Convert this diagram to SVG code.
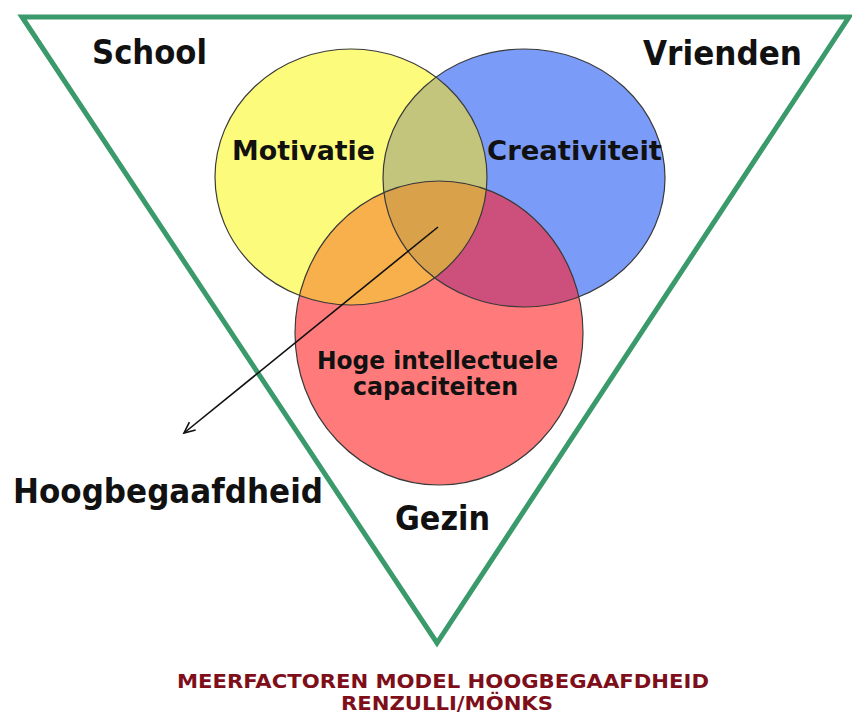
<svg xmlns="http://www.w3.org/2000/svg" width="852" height="717" viewBox="0 0 852 717">
<style>
.lbl{font-family:"DejaVu Sans","Verdana",sans-serif;font-weight:bold;fill:#111;}
.ctx{font-size:33px;}
.in{font-size:26px;}
.title{font-family:"DejaVu Sans","Verdana",sans-serif;font-weight:bold;fill:#7e0f1a;font-size:20px;}
.outline{fill:none;stroke:#3a3a3a;stroke-width:1.2;}
</style>
<defs>
<ellipse id="eY" cx="351" cy="177" rx="136" ry="128"/>
<ellipse id="eB" cx="524" cy="178" rx="141" ry="129"/>
<ellipse id="eR" cx="439" cy="333" rx="144" ry="152"/>
<clipPath id="cY"><use href="#eY"/></clipPath>
<clipPath id="cB"><use href="#eB"/></clipPath>
<marker id="arr" markerWidth="14" markerHeight="14" refX="12" refY="7" orient="auto" markerUnits="userSpaceOnUse">
<path d="M1,2 L12,7 L1,12" fill="none" stroke="#111" stroke-width="1.6"/>
</marker>
</defs>
<rect width="852" height="717" fill="#ffffff"/>
<g id="context">
<polygon points="22,17 849,17 437,643" fill="none" stroke="#3a9a6b" stroke-width="5" stroke-linejoin="miter"/>
</g>
<g id="circles">
<g id="motivatie">
<use href="#eY" fill="#fdfb7c"/>
</g>
<g id="creativiteit">
<use href="#eB" fill="#7b9bf8"/>
</g>
<g id="capaciteiten">
<use href="#eR" fill="#ff7b7b"/>
</g>
<use href="#eB" fill="#c4c57c" clip-path="url(#cY)"/>
<use href="#eR" fill="#f8b04c" clip-path="url(#cY)"/>
<use href="#eR" fill="#cc4f7c" clip-path="url(#cB)"/>
<g clip-path="url(#cY)"><use href="#eR" fill="#d9a14a" clip-path="url(#cB)"/></g>
<use href="#eY" class="outline"/>
<use href="#eB" class="outline"/>
<use href="#eR" class="outline"/>
</g>
<g id="labels">
<text class="lbl in" x="232" y="160" textLength="143" lengthAdjust="spacingAndGlyphs">Motivatie</text>
<text class="lbl in" x="487" y="160" textLength="175" lengthAdjust="spacingAndGlyphs">Creativiteit</text>
<text class="lbl" font-size="24" x="317" y="369" textLength="241" lengthAdjust="spacingAndGlyphs">Hoge intellectuele</text>
<text class="lbl" font-size="24" x="353" y="395" textLength="165" lengthAdjust="spacingAndGlyphs">capaciteiten</text>
</g>
<g id="school"><text class="lbl ctx" x="92" y="64" textLength="115" lengthAdjust="spacingAndGlyphs">School</text></g>
<g id="vrienden"><text class="lbl ctx" x="643" y="65" textLength="159" lengthAdjust="spacingAndGlyphs">Vrienden</text></g>
<g id="gezin"><text class="lbl ctx" x="395" y="530" textLength="95" lengthAdjust="spacingAndGlyphs">Gezin</text></g>
<g id="hoogbegaafdheid"><text class="lbl ctx" x="13" y="503" textLength="310" lengthAdjust="spacingAndGlyphs">Hoogbegaafdheid</text></g>
<g id="connectors">
<line x1="438" y1="227" x2="184" y2="433" stroke="#111" stroke-width="1.6" marker-end="url(#arr)"/>
</g>
<g id="title">
<text class="title" x="443" y="688" text-anchor="middle" textLength="532" lengthAdjust="spacingAndGlyphs">MEERFACTOREN MODEL HOOGBEGAAFDHEID</text>
<text class="title" x="447" y="710" text-anchor="middle" textLength="212" lengthAdjust="spacingAndGlyphs">RENZULLI/MÖNKS</text>
</g>
</svg>
